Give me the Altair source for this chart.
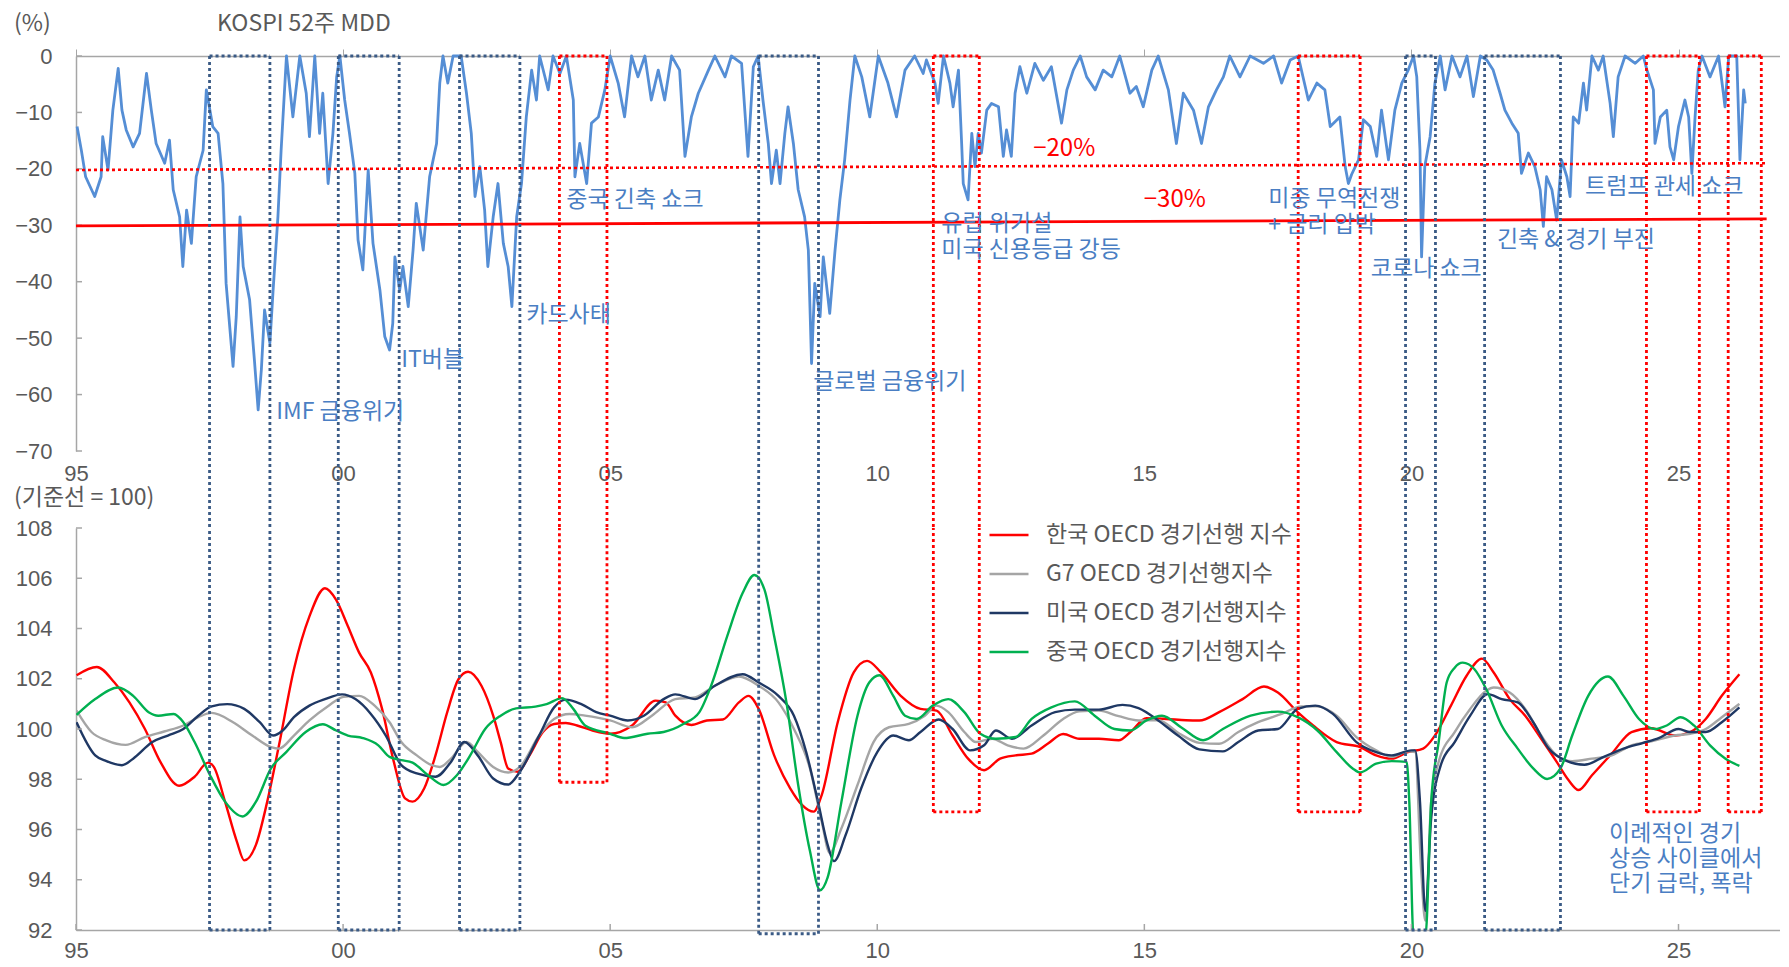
import altair as alt
import pandas as pd

# ---------------- data ----------------
mdd_year = [1995.02, 1995.10, 1995.18, 1995.35, 1995.47, 1995.50, 1995.60, 1995.69, 1995.79, 1995.86,
            1995.94, 1996.07, 1996.19, 1996.32, 1996.41, 1996.50, 1996.66, 1996.75, 1996.82, 1996.94,
            1997.00, 1997.07, 1997.16, 1997.25, 1997.38, 1997.44, 1997.56, 1997.66, 1997.75, 1997.81,
            1997.94, 1998.00, 1998.07, 1998.13, 1998.25, 1998.34, 1998.41, 1998.47, 1998.53, 1998.63,
            1998.69, 1998.78, 1998.84, 1998.94, 1999.06, 1999.19, 1999.31, 1999.37, 1999.47, 1999.56,
            1999.62, 1999.72, 1999.81, 1999.88, 1999.94, 2000.03, 2000.12, 2000.22, 2000.28, 2000.37,
            2000.47, 2000.56, 2000.69, 2000.78, 2000.87, 2000.93, 2000.97, 2001.06, 2001.12, 2001.22,
            2001.31, 2001.37, 2001.50, 2001.62, 2001.75, 2001.81, 2001.87, 2001.96, 2002.06, 2002.21,
            2002.31, 2002.40, 2002.47, 2002.56, 2002.65, 2002.71, 2002.81, 2002.90, 2003.00, 2003.09,
            2003.16, 2003.25, 2003.34, 2003.43, 2003.53, 2003.62, 2003.68, 2003.84, 2003.93, 2004.06,
            2004.18, 2004.31, 2004.34, 2004.43, 2004.56, 2004.65, 2004.78, 2004.90, 2005.00, 2005.15,
            2005.27, 2005.40, 2005.52, 2005.65, 2005.77, 2005.90, 2006.02, 2006.15, 2006.30, 2006.40,
            2006.52, 2006.65, 2006.84, 2006.96, 2007.15, 2007.27, 2007.46, 2007.58, 2007.68, 2007.77,
            2007.86, 2007.96, 2008.02, 2008.11, 2008.18, 2008.27, 2008.33, 2008.43, 2008.52, 2008.64,
            2008.71, 2008.77, 2008.83, 2008.93, 2008.99, 2009.11, 2009.21, 2009.30, 2009.39, 2009.49,
            2009.58, 2009.71, 2009.86, 2010.02, 2010.20, 2010.36, 2010.52, 2010.70, 2010.86, 2010.92,
            2011.08, 2011.14, 2011.24, 2011.36, 2011.42, 2011.52, 2011.58, 2011.61, 2011.70, 2011.77,
            2011.83, 2011.89, 2011.95, 2012.05, 2012.14, 2012.27, 2012.36, 2012.42, 2012.51, 2012.58,
            2012.67, 2012.80, 2012.95, 2013.11, 2013.26, 2013.45, 2013.55, 2013.67, 2013.80, 2013.92,
            2014.08, 2014.23, 2014.39, 2014.54, 2014.73, 2014.85, 2014.98, 2015.14, 2015.26, 2015.45,
            2015.60, 2015.73, 2015.92, 2016.07, 2016.20, 2016.35, 2016.48, 2016.60, 2016.79, 2016.98,
            2017.23, 2017.42, 2017.57, 2017.73, 2017.88, 2018.07, 2018.23, 2018.38, 2018.48, 2018.66,
            2018.76, 2018.82, 2018.88, 2019.01, 2019.10, 2019.23, 2019.35, 2019.44, 2019.57, 2019.69,
            2019.82, 2019.94, 2020.04, 2020.10, 2020.16, 2020.19, 2020.25, 2020.35, 2020.44, 2020.54,
            2020.63, 2020.76, 2020.91, 2021.04, 2021.16, 2021.29, 2021.41, 2021.53, 2021.66, 2021.75,
            2021.88, 2022.00, 2022.06, 2022.19, 2022.31, 2022.41, 2022.47, 2022.53, 2022.63, 2022.72,
            2022.81, 2022.91, 2022.97, 2023.03, 2023.13, 2023.22, 2023.28, 2023.38, 2023.50, 2023.59,
            2023.72, 2023.78, 2023.87, 2024.00, 2024.19, 2024.34, 2024.41, 2024.53, 2024.56, 2024.66,
            2024.78, 2024.84, 2024.91, 2025.00, 2025.12, 2025.19, 2025.25, 2025.31, 2025.37, 2025.44,
            2025.59, 2025.75, 2025.84, 2025.87, 2025.94, 2026.09, 2026.15, 2026.22, 2026.25]
mdd_value = [-12.5, -16.7, -21.4, -24.9, -21.4, -14.3, -20.2, -9.6, -2.2, -9.6,
             -13.1, -16.1, -13.7, -3.1, -9.6, -15.5, -19.0, -14.9, -23.7, -28.5,
             -37.3, -27.3, -33.2, -21.4, -16.7, -6.0, -12.5, -13.7, -22.6, -40.3,
             -55.0, -46.2, -28.5, -37.3, -43.2, -53.9, -62.7, -55.6, -45.0, -50.9,
             -41.5, -28.5, -16.7, 0.0, -10.8, 0.0, -6.6, -14.3, 0.0, -13.7,
             -6.6, -22.6, -13.7, -3.7, 0.0, -7.8, -13.7, -20.8, -32.6, -37.9,
             -20.2, -33.2, -41.5, -49.7, -52.1, -47.4, -35.6, -41.5, -37.3, -44.4,
             -34.4, -26.1, -34.4, -21.4, -15.5, -4.8, 0.0, -4.8, 0.0, 0.0,
             -6.6, -13.7, -24.9, -19.6, -27.3, -37.3, -28.5, -22.6, -33.2, -37.3,
             -44.4, -28.5, -22.6, -10.8, -2.5, -7.8, 0.0, -6.0, 0.0, -3.1,
             0.0, -7.8, -21.4, -15.5, -22.6, -11.9, -10.8, -6.0, 0.0, -4.8,
             -10.8, 0.0, -3.7, 0.0, -7.8, -2.5, -7.8, 0.0, -2.5, -17.8,
             -10.8, -6.6, -2.5, 0.0, -3.7, 0.0, -1.3, -17.8, -1.9, 0.0,
             -7.8, -15.5, -22.6, -16.7, -22.6, -13.7, -9.0, -15.5, -23.7, -28.5,
             -34.4, -54.5, -40.3, -46.2, -35.6, -45.6, -34.4, -25.5, -18.4, -7.8,
             0.0, -3.7, -10.8, 0.0, -4.8, -10.8, -2.5, 0.0, -3.1, -0.7,
             -4.8, -8.4, 0.0, -4.8, -9.0, -2.5, -15.5, -22.6, -25.5, -13.7,
             -19.6, -13.7, -17.2, -9.6, -8.4, -9.0, -17.8, -13.1, -17.8, -6.6,
             -1.9, -6.6, -1.3, -4.3, -1.9, -11.9, -6.0, -2.5, 0.0, -3.7,
             -6.0, -2.5, -3.7, 0.0, -6.6, -5.4, -9.0, -2.5, 0.0, -6.0,
             -15.5, -6.6, -9.6, -15.5, -9.0, -6.0, -3.7, 0.0, -3.7, 0.0,
             -1.3, 0.0, -4.8, -0.7, 0.0, -7.8, -4.8, -6.0, -12.5, -10.8,
             -19.6, -22.6, -21.0, -18.4, -11.3, -12.5, -17.8, -9.6, -18.4, -9.6,
             -4.8, -2.5, 0.0, -3.7, -16.7, -35.6, -19.6, -14.3, -4.8, 0.0,
             -6.0, 0.0, -3.7, 0.0, -7.2, 0.0, -0.7, -2.5, -6.6, -9.6,
             -11.9, -13.7, -20.8, -17.2, -19.6, -23.7, -30.2, -21.4, -23.7, -29.1,
             -18.4, -21.4, -24.9, -10.8, -11.9, -4.8, -9.6, 0.0, -2.5, 0.0,
             -8.4, -14.3, -3.7, 0.0, -1.3, 0.0, -2.5, -6.0, -15.5, -10.8,
             -9.6, -16.1, -18.4, -12.5, -7.8, -10.8, -20.8, -10.8, -2.5, 0.0,
             -3.7, 0.0, -6.6, -9.0, 0.0, 0.0, -18.4, -6.0, -8.4]

# threshold lines (-20% dotted, -30% solid)
line20_year = [1995.0, 2026.62]
line20_value = [-20.2, -19.0]
line30_year = [1995.0, 2026.65]
line30_value = [-30.1, -28.85]

# OECD composite leading indicators
kr_year = [1995.01, 1995.39, 1995.72, 1996.00, 1996.29, 1996.58, 1996.93, 1997.22, 1997.47, 1997.58,
           1997.79, 1998.01, 1998.15, 1998.37, 1998.58, 1998.80, 1999.08, 1999.37, 1999.66, 1999.87,
           2000.09, 2000.30, 2000.52, 2000.73, 2000.95, 2001.16, 2001.30, 2001.52, 2001.73, 2001.95,
           2002.16, 2002.34, 2002.59, 2002.81, 2002.95, 2003.09, 2003.27, 2003.49, 2003.74, 2003.95,
           2004.17, 2004.38, 2004.67, 2005.00, 2005.41, 2005.85, 2006.04, 2006.22, 2006.52, 2006.81,
           2007.11, 2007.41, 2007.59, 2007.78, 2008.07, 2008.37, 2008.59, 2008.81, 2008.96, 2009.26,
           2009.56, 2009.81, 2010.07, 2010.44, 2010.81, 2011.11, 2011.41, 2011.70, 2012.00, 2012.30,
           2012.59, 2012.89, 2013.19, 2013.48, 2013.78, 2014.15, 2014.52, 2014.74, 2015.04, 2015.41,
           2015.78, 2016.03, 2016.40, 2016.84, 2017.24, 2017.50, 2017.87, 2018.16, 2018.60, 2019.04,
           2019.34, 2019.63, 2019.93, 2020.22, 2020.44, 2020.74, 2021.03, 2021.32, 2021.54, 2021.84,
           2022.13, 2022.43, 2022.72, 2022.94, 2023.13, 2023.38, 2023.75, 2024.12, 2024.49, 2024.93,
           2025.22, 2025.51, 2025.81, 2026.14]
kr_value = [102.14, 102.47, 101.85, 101.06, 100.00, 98.69, 97.74, 98.10, 98.66, 98.49,
            97.11, 95.53, 94.77, 95.40, 97.11, 99.35, 102.38, 104.48, 105.60, 105.14,
            104.09, 103.04, 102.25, 100.80, 98.69, 97.24, 97.11, 97.64, 98.95, 100.67,
            101.98, 102.28, 101.72, 100.53, 99.48, 98.43, 98.30, 98.95, 99.88, 100.20,
            100.24, 100.14, 99.94, 99.81, 100.14, 101.13, 101.06, 100.53, 100.16, 100.34,
            100.38, 101.06, 101.32, 100.80, 98.95, 97.64, 96.98, 96.71, 97.37, 100.27,
            102.25, 102.71, 102.25, 101.32, 100.80, 100.73, 99.74, 98.82, 98.36, 98.82,
            98.95, 99.02, 99.41, 99.80, 99.61, 99.61, 99.55, 99.88, 100.43, 100.40,
            100.35, 100.34, 100.67, 101.19, 101.69, 101.45, 100.67, 100.14, 99.48, 99.28,
            98.95, 98.82, 99.08, 99.22, 99.74, 100.93, 102.11, 102.80, 102.25, 101.19,
            100.53, 99.61, 98.69, 97.97, 97.57, 98.16, 99.02, 99.88, 100.03, 99.74,
            99.88, 100.40, 101.32, 102.18]

g7_year = [1995.01, 1995.29, 1995.57, 1995.93, 1996.29, 1996.65, 1997.01, 1997.29, 1997.54, 1997.94,
           1998.30, 1998.65, 1998.80, 1999.08, 1999.37, 1999.73, 2000.01, 2000.30, 2000.59, 2000.87,
           2001.09, 2001.38, 2001.66, 2001.81, 2002.02, 2002.31, 2002.52, 2002.81, 2003.09, 2003.31,
           2003.67, 2003.95, 2004.24, 2004.53, 2005.00, 2005.41, 2005.78, 2006.22, 2006.59, 2006.96,
           2007.41, 2007.78, 2008.15, 2008.44, 2008.74, 2008.96, 2009.11, 2009.33, 2009.63, 2009.93,
           2010.22, 2010.59, 2010.89, 2011.11, 2011.33, 2011.63, 2011.85, 2012.15, 2012.44, 2012.74,
           2013.11, 2013.48, 2013.78, 2014.15, 2014.52, 2014.89, 2015.26, 2015.66, 2016.03, 2016.40,
           2016.76, 2017.13, 2017.57, 2017.94, 2018.24, 2018.60, 2018.97, 2019.34, 2019.63, 2019.93,
           2020.07, 2020.18, 2020.26, 2020.37, 2020.51, 2020.81, 2021.10, 2021.40, 2021.54, 2021.84,
           2022.13, 2022.43, 2022.72, 2023.01, 2023.38, 2023.75, 2024.12, 2024.49, 2024.93, 2025.22,
           2025.51, 2025.81, 2026.14]
g7_value = [100.73, 99.88, 99.55, 99.37, 99.68, 99.90, 100.14, 100.47, 100.64, 100.27,
            99.74, 99.28, 99.22, 99.74, 100.34, 100.93, 101.28, 101.32, 100.93, 100.27,
            99.48, 98.95, 98.56, 98.49, 98.82, 99.48, 99.09, 98.49, 98.27, 98.49,
            99.74, 100.40, 100.60, 100.53, 100.34, 100.07, 100.53, 101.19, 101.26, 101.72,
            102.09, 101.72, 101.06, 100.00, 98.43, 96.32, 95.07, 96.05, 97.77, 99.48,
            100.07, 100.20, 100.53, 100.93, 100.67, 99.88, 99.48, 99.61, 99.35, 99.22,
            99.74, 100.40, 100.70, 100.73, 100.51, 100.34, 100.35, 99.81, 99.45, 99.41,
            99.88, 100.27, 100.60, 100.90, 100.90, 100.53, 99.68, 99.15, 98.89, 99.11,
            99.08, 94.47, 92.37, 97.11, 98.69, 99.88, 100.80, 101.52, 101.65, 101.45,
            100.80, 99.74, 98.95, 98.72, 98.82, 98.95, 99.35, 99.51, 99.74, 99.81,
            100.00, 100.47, 101.00]

us_year = [1995.01, 1995.36, 1995.57, 1995.86, 1996.07, 1996.43, 1996.72, 1997.01, 1997.29, 1997.54,
           1997.83, 1998.15, 1998.44, 1998.69, 1998.87, 1999.08, 1999.37, 1999.66, 1999.98, 2000.23,
           2000.52, 2000.80, 2001.09, 2001.38, 2001.73, 2002.02, 2002.27, 2002.52, 2002.81, 2003.09,
           2003.31, 2003.67, 2003.95, 2004.17, 2004.46, 2004.74, 2005.00, 2005.33, 2005.63, 2006.00,
           2006.22, 2006.59, 2006.96, 2007.48, 2007.78, 2008.15, 2008.44, 2008.67, 2008.89, 2009.07,
           2009.19, 2009.41, 2009.70, 2010.00, 2010.30, 2010.59, 2010.81, 2011.15, 2011.41, 2011.74,
           2012.00, 2012.22, 2012.52, 2012.89, 2013.33, 2013.70, 2014.15, 2014.59, 2014.89, 2015.26,
           2015.63, 2016.03, 2016.47, 2016.76, 2017.13, 2017.50, 2017.87, 2018.20, 2018.53, 2018.97,
           2019.34, 2019.63, 2020.00, 2020.07, 2020.16, 2020.26, 2020.37, 2020.55, 2020.81, 2021.10,
           2021.43, 2021.69, 2021.99, 2022.28, 2022.57, 2022.87, 2023.24, 2023.60, 2023.97, 2024.34,
           2024.63, 2025.00, 2025.22, 2025.51, 2025.81, 2026.14]
us_value = [100.27, 98.95, 98.72, 98.56, 98.82, 99.48, 99.74, 100.00, 100.53, 100.90,
            100.99, 100.80, 100.27, 99.74, 99.94, 100.47, 100.93, 101.19, 101.38, 101.19,
            100.60, 99.74, 98.56, 98.23, 98.10, 98.69, 99.48, 98.95, 98.03, 97.79,
            98.30, 99.74, 100.86, 101.17, 100.99, 100.67, 100.53, 100.34, 100.53, 101.19,
            101.38, 101.19, 101.72, 102.18, 101.85, 101.32, 100.53, 99.08, 97.11, 95.40,
            94.74, 95.79, 97.64, 99.08, 99.74, 99.55, 99.88, 100.38, 100.00, 99.15,
            99.35, 99.94, 99.61, 100.14, 100.67, 100.77, 100.77, 100.96, 100.83, 100.34,
            99.74, 99.19, 99.11, 99.48, 99.94, 100.00, 100.80, 100.93, 100.60, 99.48,
            99.08, 98.95, 99.15, 99.15, 97.11, 92.76, 96.45, 98.56, 99.48, 100.53,
            101.39, 101.19, 101.06, 100.27, 99.22, 98.76, 98.58, 98.89, 99.22, 99.45,
            99.64, 100.00, 99.88, 99.88, 100.27, 100.86]

cn_year = [1995.01, 1995.36, 1995.79, 1996.07, 1996.36, 1996.54, 1996.83, 1997.01, 1997.22, 1997.51,
           1997.79, 1998.12, 1998.37, 1998.65, 1998.94, 1999.30, 1999.62, 1999.87, 2000.09, 2000.37,
           2000.66, 2000.87, 2001.09, 2001.30, 2001.59, 2001.88, 2002.13, 2002.38, 2002.66, 2002.95,
           2003.24, 2003.60, 2003.81, 2004.10, 2004.31, 2004.53, 2005.00, 2005.26, 2005.70, 2006.00,
           2006.37, 2006.67, 2006.89, 2007.19, 2007.48, 2007.70, 2007.89, 2008.07, 2008.30, 2008.52,
           2008.74, 2008.93, 2009.07, 2009.33, 2009.63, 2009.85, 2010.04, 2010.30, 2010.52, 2010.74,
           2011.04, 2011.33, 2011.63, 2011.93, 2012.22, 2012.59, 2012.89, 2013.26, 2013.70, 2014.07,
           2014.44, 2014.74, 2015.04, 2015.33, 2015.70, 2016.10, 2016.47, 2016.99, 2017.50, 2017.87,
           2018.24, 2018.60, 2018.90, 2019.04, 2019.34, 2019.63, 2019.91, 2019.96, 2020.04, 2020.26,
           2020.37, 2020.51, 2020.66, 2020.81, 2020.96, 2021.18, 2021.40, 2021.69, 2021.99, 2022.28,
           2022.54, 2022.79, 2023.01, 2023.31, 2023.68, 2023.97, 2024.26, 2024.56, 2024.78, 2025.04,
           2025.29, 2025.59, 2025.88, 2026.14]
cn_value = [100.56, 101.19, 101.65, 101.32, 100.67, 100.53, 100.60, 100.27, 99.48, 98.16,
            97.11, 96.52, 97.11, 98.43, 99.09, 99.88, 100.19, 99.94, 99.74, 99.64,
            99.35, 98.89, 98.76, 98.66, 98.16, 97.77, 98.16, 98.95, 100.00, 100.53,
            100.82, 100.89, 100.99, 101.23, 100.80, 100.14, 99.81, 99.64, 99.81, 99.88,
            100.20, 100.67, 101.72, 103.69, 105.41, 106.13, 105.54, 103.69, 101.06, 97.77,
            95.14, 93.58, 94.08, 97.11, 100.53, 101.85, 102.14, 101.32, 100.53, 100.40,
            100.93, 101.19, 100.67, 99.81, 99.61, 99.68, 100.40, 100.86, 101.10, 100.53,
            100.00, 99.94, 100.34, 100.53, 100.05, 99.55, 100.00, 100.53, 100.69, 100.47,
            99.94, 99.08, 98.43, 98.27, 98.62, 98.72, 98.69, 97.11, 91.70, 91.70,
            97.11, 99.48, 101.85, 102.44, 102.64, 102.38, 101.59, 100.14, 99.22, 98.43,
            98.01, 98.43, 99.74, 101.32, 102.09, 101.32, 100.40, 100.00, 100.14, 100.47,
            100.14, 99.35, 98.82, 98.53]

series_names = ["한국 OECD 경기선행 지수", "G7 OECD 경기선행지수", "미국 OECD 경기선행지수", "중국 OECD 경기선행지수"]
series_colors = ["#FF0000", "#A5A5A5", "#1F3864", "#00B050"]

# dotted event boxes
blue_start = [1997.50, 1999.91, 2002.18, 2007.78, 2019.89, 2021.37]
blue_end = [1998.63, 2001.05, 2003.31, 2008.90, 2020.45, 2022.79]
blue_bottom = [92.0, 92.0, 92.0, 91.85, 92.0, 92.0]
red_start = [2004.05, 2011.05, 2017.88, 2024.40, 2025.93]
red_end = [2004.94, 2011.91, 2019.04, 2025.39, 2026.55]
red_bottom = [97.88, 96.70, 96.70, 96.70, 96.70]

# annotations (top panel)
ann_label = ["IMF 금융위기", "IT버블", "카드사태", "중국 긴축 쇼크", "글로벌 금융위기",
             "유럽 위기설", "미국 신용등급 강등", "미중 무역전쟁", "+ 금리 압박",
             "코로나 쇼크", "긴축 & 경기 부진", "트럼프 관세 쇼크"]
ann_year = [1998.75, 2001.09, 2003.43, 2004.18, 2008.80,
            2011.20, 2011.20, 2017.32, 2017.32,
            2019.24, 2021.60, 2023.25]
ann_value = [-63.0, -53.9, -45.9, -25.6, -57.7,
             -29.7, -34.3, -25.4, -29.9,
             -37.8, -32.6, -23.2]
thr_label = ["−20%", "−30%"]
thr_label_year = [2012.92, 2014.99]
thr_label_value = [-16.5, -25.5]

note_label = ["이례적인 경기", "상승 사이클에서", "단기 급락, 폭락"]
note_year = [2023.70, 2023.70, 2023.70]
note_value = [95.82, 94.81, 93.82]

x_ticks = [1995, 2000, 2005, 2010, 2015, 2020, 2025]
top_y_ticks = [0, -10, -20, -30, -40, -50, -60, -70]
bot_y_ticks = [92, 94, 96, 98, 100, 102, 104, 106, 108]

# ---------------- styling ----------------
W = 1704
H_TOP = 395
H_BOT = 402
GAP = 77
KR = "Noto Sans CJK KR"
NUM = "Liberation Sans"
AXIS_GRAY = "#A6A6A6"
LABEL_GRAY = "#595959"
ANN_BLUE = "#4A7EC3"
LINE_BLUE = "#558ED5"
BOX_BLUE = "#3A5A85"
BOX_RED = "#FF0000"
TXT = 23
YEAR_LABEL = "slice('0' + (datum.value % 100), -2)"
MINUS_LABEL = "datum.value < 0 ? '\u2212' + (-datum.value) : '' + datum.value"

xscale = alt.Scale(domain=[1995, 2026.9], nice=False, zero=False)
ytop = alt.Scale(domain=[-70, 0], nice=False, zero=False)
ybot = alt.Scale(domain=[92, 108], nice=False, zero=False)

# one axis definition per panel/channel, repeated on every layer so they merge cleanly
Y_TOP_AXIS = alt.Axis(orient="left", values=top_y_ticks, ticks=False, labelPadding=24, labelFlush=False,
                      domainColor=AXIS_GRAY, domainWidth=1.5, grid=False, title=None, labelExpr=MINUS_LABEL)
X_BOT_AXIS = alt.Axis(orient="bottom", values=x_ticks, labelExpr=YEAR_LABEL, ticks=False, labelFlush=False,
                      domainColor=AXIS_GRAY, domainWidth=1.5, labelPadding=10, grid=False, title=None)
Y_BOT_AXIS = alt.Axis(orient="left", values=bot_y_ticks, ticks=False, labelPadding=24, labelFlush=False,
                      domainColor=AXIS_GRAY, domainWidth=1.5, grid=False, title=None)

mdd_df = pd.DataFrame({"year": mdd_year, "mdd": mdd_value})
thr_df = pd.DataFrame({
    "year": line20_year + line30_year,
    "value": line20_value + line30_value,
    "level": ["20", "20", "30", "30"],
})
blue_df = pd.DataFrame({"start": blue_start, "end": blue_end, "bottom": blue_bottom})
red_df = pd.DataFrame({"start": red_start, "end": red_end, "bottom": red_bottom})
ann_df = pd.DataFrame({"label": ann_label, "year": ann_year, "value": ann_value})
thr_lab_df = pd.DataFrame({"label": thr_label, "year": thr_label_year, "value": thr_label_value})
note_df = pd.DataFrame({"label": note_label, "year": note_year, "value": note_value})
top_tick_df = pd.DataFrame({"v": top_y_ticks})
bot_tick_df = pd.DataFrame({"v": bot_y_ticks})
x_tick_df = pd.DataFrame({"v": x_ticks})

cli_df = pd.concat([
    pd.DataFrame({"year": kr_year, "value": kr_value, "series": series_names[0]}),
    pd.DataFrame({"year": g7_year, "value": g7_value, "series": series_names[1]}),
    pd.DataFrame({"year": us_year, "value": us_value, "series": series_names[2]}),
    pd.DataFrame({"year": cn_year, "value": cn_value, "series": series_names[3]}),
], ignore_index=True)


def dash(color):
    return dict(color=color, strokeDash=[3, 3], strokeWidth=2.8)


def box_top(df, color):
    top_edge = alt.Chart(df).mark_rule(**dash(color)).encode(
        x=alt.X("start:Q", scale=xscale, axis=None), x2="end:Q", y=alt.value(0))
    sides = alt.Chart(df).transform_fold(["start", "end"], as_=["side", "pos"]).mark_rule(**dash(color)).encode(
        x=alt.X("pos:Q", scale=xscale, axis=None), y=alt.value(0), y2=alt.value(H_TOP + GAP))
    return [top_edge, sides]


def box_bottom(df, color):
    sides = alt.Chart(df).transform_fold(["start", "end"], as_=["side", "pos"]).mark_rule(**dash(color)).encode(
        x=alt.X("pos:Q", scale=xscale, axis=X_BOT_AXIS),
        y=alt.Y("bottom:Q", scale=ybot, axis=Y_BOT_AXIS), y2=alt.value(0))
    bottom_edge = alt.Chart(df).mark_rule(**dash(color)).encode(
        x=alt.X("start:Q", scale=xscale, axis=X_BOT_AXIS), x2="end:Q",
        y=alt.Y("bottom:Q", scale=ybot, axis=Y_BOT_AXIS))
    return [sides, bottom_edge]


def header(text, x, y):
    return alt.Chart(pd.DataFrame({"t": [text]})).mark_text(
        align="left", baseline="top", font=KR, fontSize=TXT, color=LABEL_GRAY
    ).encode(x=alt.value(x), y=alt.value(y), text="t:N")


# ---------------- top panel ----------------
mdd_line = alt.Chart(mdd_df).mark_line(color=LINE_BLUE, strokeWidth=2.8, strokeJoin="round").encode(
    x=alt.X("year:Q", scale=xscale, axis=alt.Axis(
        orient="top", values=x_ticks, labels=False, ticks=True, tickSize=7, tickColor=AXIS_GRAY,
        domain=True, domainColor=AXIS_GRAY, domainWidth=1.5, grid=False, title=None)),
    y=alt.Y("mdd:Q", scale=ytop, axis=Y_TOP_AXIS),
)

top_inner_ticks = alt.Chart(top_tick_df).mark_rule(color=AXIS_GRAY, strokeWidth=1.5).encode(
    x=alt.value(0), x2=alt.value(6), y=alt.Y("v:Q", scale=ytop, axis=Y_TOP_AXIS))

thr20 = alt.Chart(thr_df).transform_filter(alt.datum.level == "20").mark_line(
    color="#FF0000", strokeWidth=2.6, strokeDash=[3, 3]).encode(
    x=alt.X("year:Q", scale=xscale, axis=None),
    y=alt.Y("value:Q", scale=ytop, axis=Y_TOP_AXIS))

thr30 = alt.Chart(thr_df).transform_filter(alt.datum.level == "30").mark_line(
    color="#FF0000", strokeWidth=2.8).encode(
    x=alt.X("year:Q", scale=xscale, axis=alt.Axis(
        orient="bottom", values=x_ticks, labelExpr=YEAR_LABEL, domain=False, ticks=False,
        labelFlush=False, labelPadding=12, grid=False, title=None)),
    y=alt.Y("value:Q", scale=ytop, axis=Y_TOP_AXIS))

ann_text = alt.Chart(ann_df).mark_text(
    align="left", baseline="middle", font=KR, fontSize=TXT, color=ANN_BLUE).encode(
    x=alt.X("year:Q", scale=xscale, axis=None),
    y=alt.Y("value:Q", scale=ytop, axis=Y_TOP_AXIS), text="label:N")

thr_text = alt.Chart(thr_lab_df).mark_text(
    align="left", baseline="middle", font=KR, fontSize=24, color="#FF0000").encode(
    x=alt.X("year:Q", scale=xscale, axis=None),
    y=alt.Y("value:Q", scale=ytop, axis=Y_TOP_AXIS), text="label:N")

top = alt.layer(
    mdd_line, top_inner_ticks, thr20, thr30,
    *box_top(blue_df, BOX_BLUE), *box_top(red_df, BOX_RED),
    ann_text, thr_text,
    header("(%)", -62, -43), header("KOSPI 52주 MDD", 141, -43),
).properties(width=W, height=H_TOP)

# ---------------- bottom panel ----------------
cli_lines = alt.Chart(cli_df).mark_line(strokeWidth=2.4, interpolate="monotone", clip=True).encode(
    x=alt.X("year:Q", scale=xscale, axis=X_BOT_AXIS),
    y=alt.Y("value:Q", scale=ybot, axis=Y_BOT_AXIS),
    color=alt.Color("series:N", scale=alt.Scale(domain=series_names, range=series_colors),
                    legend=alt.Legend(orient="none", legendX=912, legendY=H_TOP + GAP - 14, title=None,
                                      symbolType="stroke", symbolSize=1521, symbolStrokeWidth=2.6,
                                      labelFont=KR, labelFontSize=TXT, labelColor=LABEL_GRAY,
                                      labelOffset=16, rowPadding=6, padding=0, labelLimit=500)),
)

bot_inner_yticks = alt.Chart(bot_tick_df).mark_rule(color=AXIS_GRAY, strokeWidth=1.5).encode(
    x=alt.value(0), x2=alt.value(6), y=alt.Y("v:Q", scale=ybot, axis=Y_BOT_AXIS))

bot_inner_xticks = alt.Chart(x_tick_df).mark_rule(color=AXIS_GRAY, strokeWidth=1.5).encode(
    x=alt.X("v:Q", scale=xscale, axis=X_BOT_AXIS), y=alt.value(H_BOT - 6), y2=alt.value(H_BOT))

note_text = alt.Chart(note_df).mark_text(
    align="left", baseline="middle", font=KR, fontSize=TXT, color=ANN_BLUE).encode(
    x=alt.X("year:Q", scale=xscale, axis=X_BOT_AXIS),
    y=alt.Y("value:Q", scale=ybot, axis=Y_BOT_AXIS), text="label:N")

bottom = alt.layer(
    cli_lines, bot_inner_yticks, bot_inner_xticks,
    *box_bottom(blue_df, BOX_BLUE), *box_bottom(red_df, BOX_RED),
    note_text,
    header("(기준선 = 100)", -62, -41),
).properties(width=W, height=H_BOT)

chart = alt.vconcat(top, bottom, spacing=GAP, bounds="flush").properties(
    padding={"left": 6, "top": 5, "right": 0, "bottom": 0}
).configure_view(stroke=None).configure_axis(
    labelFont=NUM, labelFontSize=22, labelColor=LABEL_GRAY
)

chart.save("out.html", embed_options={"renderer": "svg", "actions": False})
